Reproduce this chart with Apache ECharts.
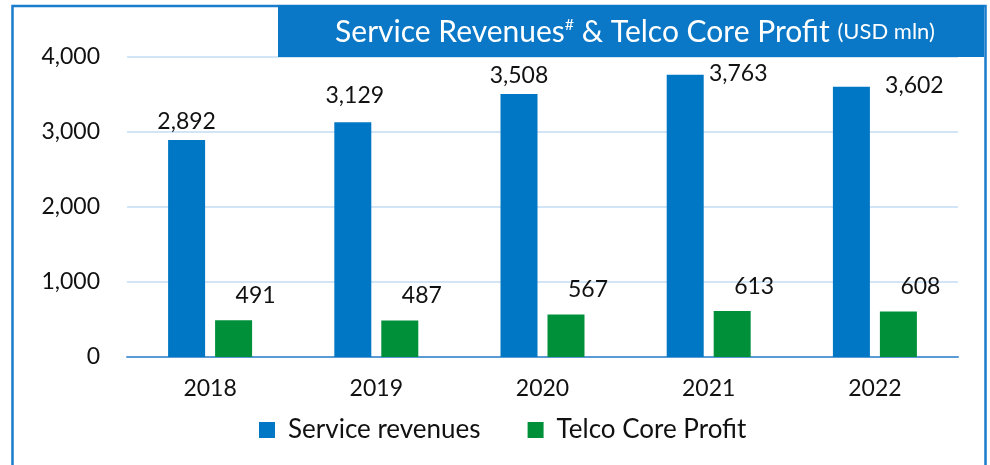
<!DOCTYPE html>
<html>
<head>
<meta charset="utf-8">
<script src="https://cdn.jsdelivr.net/npm/echarts@6/dist/echarts.min.js"></script>
<style>
  html, body { margin: 0; padding: 0; background: #fff; }
  #main { width: 990px; height: 465px; }
</style>
</head>
<body>
<div id="main"></div>
<script>
// values
var years = ['2018', '2019', '2020', '2021', '2022'];
var serviceRevenues = [2892, 3129, 3508, 3763, 3602];
var telcoCoreProfit = [491, 487, 567, 613, 608];
var yTicks = [0, 1000, 2000, 3000, 4000];

var BLUE = '#0077c5';
var GREEN = '#00903a';
var FONT = 'Lato';

function fmt(v) {
  return Number(v).toLocaleString('en-US');
}

// label nudges so the blue labels sit where the picture puts them
var blueShift = { 1: [2, -8], 3: [53, 17], 4: [63, 17] };

var chart = echarts.init(document.getElementById('main'));
chart.setOption({
  backgroundColor: '#fff',
  animation: false,
  textStyle: { fontFamily: FONT },
  graphic: [
    {
      type: 'rect', z: 0,
      shape: { x: 12.5, y: 6, width: 973, height: 480 },
      style: { fill: 'none', stroke: '#1a7ccc', lineWidth: 2.5 }
    },
    {
      type: 'rect', z: 10,
      shape: { x: 278, y: 5, width: 706, height: 52 },
      style: { fill: '#0a78c6' }
    }
  ],
  title: {
    text: '{a|Service Revenues}{s|#}{a| & Telco Core Profit }{b|(USD mln)}',
    left: 630,
    top: 12,
    textAlign: 'center',
    z: 12,
    textStyle: {
      fontWeight: 'normal',
      rich: {
        a: { color: '#fff', fontSize: 30, fontWeight: 'normal', fontFamily: FONT },
        s: { color: '#fff', fontSize: 16, fontWeight: 'normal', fontFamily: FONT, verticalAlign: 'top', padding: [0, 0, 12, 0] },
        b: { color: '#fff', fontSize: 22, fontWeight: 'normal', fontFamily: FONT }
      }
    }
  },
  legend: {
    left: 254,
    top: 412,
    itemWidth: 16,
    itemHeight: 16,
    itemGap: 47,
    icon: 'rect',
    textStyle: { fontSize: 26, color: '#111', fontFamily: FONT, padding: [0, 0, 0, 8] },
    data: ['Service revenues', 'Telco Core Profit']
  },
  grid: { left: 127, right: 32, top: 57, bottom: 108 },
  xAxis: {
    type: 'category',
    data: years,
    axisTick: { show: false },
    axisLine: { lineStyle: { color: '#5b9bd5', width: 2 } },
    axisLabel: { fontSize: 23, color: '#111', margin: 20, fontFamily: FONT }
  },
  yAxis: {
    type: 'value',
    min: yTicks[0],
    max: yTicks[yTicks.length - 1],
    interval: yTicks[1] - yTicks[0],
    axisLine: { show: false },
    axisTick: { show: false },
    splitLine: { lineStyle: { color: '#d2e5f6', width: 2 } },
    axisLabel: { fontSize: 23, color: '#111', margin: 27, fontFamily: FONT, formatter: fmt }
  },
  series: [
    {
      name: 'Service revenues',
      type: 'bar',
      barWidth: 37,
      barGap: '27%',
      itemStyle: { color: BLUE },
      label: {
        show: true, position: 'top', distance: 7,
        fontSize: 23, color: '#111', fontFamily: FONT,
        formatter: function (p) { return fmt(p.value); }
      },
      data: serviceRevenues.map(function (v, i) {
        var d = { value: v };
        if (blueShift[i]) d.label = { offset: blueShift[i] };
        return d;
      })
    },
    {
      name: 'Telco Core Profit',
      type: 'bar',
      barWidth: 37,
      itemStyle: { color: GREEN },
      label: {
        show: true, position: 'top', distance: 13, offset: [22, 0],
        fontSize: 23, color: '#111', fontFamily: FONT,
        formatter: function (p) { return fmt(p.value); }
      },
      data: telcoCoreProfit
    }
  ]
});
</script>
</body>
</html>
